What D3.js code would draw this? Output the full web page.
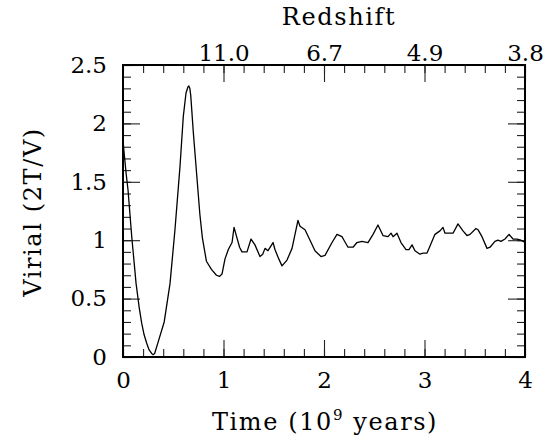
<!DOCTYPE html>
<html>
<head>
<meta charset="utf-8">
<script src="https://cdn.jsdelivr.net/npm/d3@7"></script>
<style>
  html, body { margin: 0; padding: 0; background: #fff; }
  svg { display: block; }
  .lbl { font-family: "DejaVu Serif", serif; fill: #000; }
  .title { letter-spacing: 1.6px; }
</style>
</head>
<body>
<svg id="chart" width="557" height="440"></svg>
<script>
// Time in Gyr and the virial ratio 2T/V of the halo
const timeGyr = [
  0.000, 0.010, 0.030, 0.050, 0.087, 0.130, 0.160, 0.186, 0.210, 0.235,
  0.260, 0.285, 0.300, 0.315, 0.350, 0.410, 0.468, 0.517, 0.567, 0.600,
  0.627, 0.645, 0.655, 0.665, 0.674, 0.700, 0.740, 0.765, 0.790, 0.830,
  0.880, 0.930, 0.960, 0.985, 1.015, 1.048, 1.085, 1.105, 1.134, 1.160,
  1.184, 1.234, 1.274, 1.313, 1.363, 1.390, 1.413, 1.443, 1.493, 1.512,
  1.550, 1.582, 1.632, 1.682, 1.741, 1.761, 1.811, 1.861, 1.910, 1.970,
  2.010, 2.080, 2.129, 2.179, 2.199, 2.239, 2.289, 2.328, 2.378, 2.438,
  2.488, 2.537, 2.587, 2.637, 2.667, 2.687, 2.726, 2.766, 2.816, 2.846,
  2.876, 2.905, 2.955, 2.985, 3.025, 3.055, 3.104, 3.154, 3.184, 3.204,
  3.254, 3.284, 3.333, 3.383, 3.423, 3.453, 3.512, 3.532, 3.572, 3.622,
  3.652, 3.701, 3.731, 3.761, 3.801, 3.841, 3.881, 3.920, 3.960, 4.000
];
const virial = [
  1.86, 1.76, 1.58, 1.43, 1.03, 0.63, 0.43, 0.29, 0.19, 0.12,
  0.06, 0.03, 0.02, 0.03, 0.13, 0.30, 0.63, 1.09, 1.63, 2.06,
  2.26, 2.31, 2.32, 2.30, 2.24, 1.92, 1.49, 1.22, 1.02, 0.82,
  0.75, 0.70, 0.69, 0.71, 0.84, 0.92, 0.98, 1.11, 1.02, 0.94,
  0.90, 0.90, 1.01, 0.96, 0.86, 0.88, 0.93, 0.91, 0.98, 0.92,
  0.84, 0.78, 0.83, 0.93, 1.17, 1.12, 1.09, 1.00, 0.91, 0.86,
  0.87, 0.98, 1.05, 1.03, 1.00, 0.94, 0.94, 0.98, 0.99, 0.98,
  1.05, 1.13, 1.04, 1.03, 1.06, 1.03, 1.06, 0.98, 0.92, 0.92,
  0.96, 0.91, 0.88, 0.89, 0.89, 0.95, 1.05, 1.08, 1.11, 1.06,
  1.06, 1.06, 1.14, 1.08, 1.04, 1.05, 1.10, 1.09, 1.03, 0.93,
  0.94, 0.99, 1.00, 0.99, 1.01, 1.05, 1.01, 1.01, 1.00, 0.98
];

// Axis ticks
const timeMajor = [0, 1, 2, 3, 4];
const virialMajor = [0, 0.5, 1, 1.5, 2, 2.5];
const redshiftAt = [1, 2, 3, 4];
const redshiftLabels = ["11.0", "6.7", "4.9", "3.8"];

const svg = d3.select("#chart");
const plotL = 123, plotR = 525, plotT = 65, plotB = 357;

const x = d3.scaleLinear().domain([0, 4]).range([plotL, plotR]);
const y = d3.scaleLinear().domain([0, 2.5]).range([plotB, plotT]);

const minorX = d3.range(0, 4.0001, 0.2);
const minorY = d3.range(0, 2.5001, 0.1);
const majorLen = 17, minorLen = 8;
const tickFont = 23, titleFont = 24;

function styleAxis(g) {
  g.select(".domain").remove();
  g.selectAll(".tick line").attr("stroke", "#222").attr("stroke-width", 1.1);
  g.selectAll(".tick text")
    .attr("class", "lbl")
    .style("font-family", '"DejaVu Serif", serif')
    .style("font-size", tickFont + "px")
    .attr("fill", "#000");
}

// bottom axis (ticks pointing inward)
svg.append("g").attr("transform", `translate(0,${plotB})`)
  .call(d3.axisBottom(x).tickValues(minorX).tickSizeInner(-minorLen).tickSizeOuter(0).tickFormat(""))
  .call(styleAxis);
svg.append("g").attr("transform", `translate(0,${plotB})`)
  .call(d3.axisBottom(x).tickValues(timeMajor).tickSizeInner(-majorLen).tickSizeOuter(0)
    .tickPadding(15).tickFormat(d3.format("~g")))
  .call(styleAxis);

// top axis: redshift
svg.append("g").attr("transform", `translate(0,${plotT})`)
  .call(d3.axisTop(x).tickValues(minorX).tickSizeInner(-minorLen).tickSizeOuter(0).tickFormat(""))
  .call(styleAxis);
svg.append("g").attr("transform", `translate(0,${plotT})`)
  .call(d3.axisTop(x).tickValues(redshiftAt).tickSizeInner(-majorLen).tickSizeOuter(0)
    .tickPadding(4).tickFormat((d, i) => redshiftLabels[i]))
  .call(styleAxis);

// left axis
svg.append("g").attr("transform", `translate(${plotL},0)`)
  .call(d3.axisLeft(y).tickValues(minorY).tickSizeInner(-minorLen).tickSizeOuter(0).tickFormat(""))
  .call(styleAxis);
svg.append("g").attr("transform", `translate(${plotL},0)`)
  .call(d3.axisLeft(y).tickValues(virialMajor).tickSizeInner(-majorLen).tickSizeOuter(0)
    .tickPadding(16).tickFormat(d3.format("~g")))
  .call(styleAxis);

// right axis
svg.append("g").attr("transform", `translate(${plotR},0)`)
  .call(d3.axisRight(y).tickValues(minorY).tickSizeInner(-minorLen).tickSizeOuter(0).tickFormat(""))
  .call(styleAxis);
svg.append("g").attr("transform", `translate(${plotR},0)`)
  .call(d3.axisRight(y).tickValues(virialMajor).tickSizeInner(-majorLen).tickSizeOuter(0).tickFormat(""))
  .call(styleAxis);

// frame
svg.append("rect")
  .attr("x", plotL).attr("y", plotT)
  .attr("width", plotR - plotL).attr("height", plotB - plotT)
  .attr("fill", "none").attr("stroke", "#000").attr("stroke-width", 2);

// curve
const pts = timeGyr.map((t, i) => [t, virial[i]]);
svg.append("path")
  .datum(pts)
  .attr("fill", "none")
  .attr("stroke", "#000")
  .attr("stroke-width", 1.3)
  .attr("stroke-linejoin", "round")
  .attr("d", d3.line().x(d => x(d[0])).y(d => y(d[1])));

// axis titles
svg.append("text").attr("class", "lbl title")
  .attr("x", 339).attr("y", 25)
  .attr("text-anchor", "middle")
  .style("font-size", titleFont + "px")
  .text("Redshift");

const tl = svg.append("text").attr("class", "lbl title")
  .attr("x", (plotL + plotR) / 2 + 1).attr("y", 430)
  .attr("text-anchor", "middle")
  .style("font-size", titleFont + "px");
tl.append("tspan").text("Time (10");
tl.append("tspan").attr("dy", -10).style("font-size", "15px").text("9");
tl.append("tspan").attr("dy", 10).text(" years)");

svg.append("text").attr("class", "lbl title")
  .attr("transform", `translate(41,${(plotT + plotB) / 2 + 1}) rotate(-90)`)
  .attr("text-anchor", "middle")
  .style("font-size", titleFont + "px")
  .text("Virial (2T/V)");
</script>
</body>
</html>
